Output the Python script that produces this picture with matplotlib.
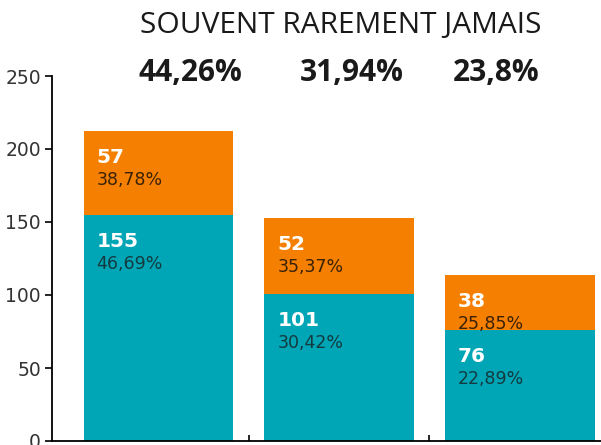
import matplotlib.pyplot as plt
import numpy as np

categories = ['SOUVENT', 'RAREMENT', 'JAMAIS']
header_pct = ['44,26%', '31,94%', '23,8%']
teal_vals = [155, 101, 76]
teal_pct = ['46,69%', '30,42%', '22,89%']
orange_vals = [57, 52, 38]
orange_pct = ['38,78%', '35,37%', '25,85%']

TEAL = '#00a6b5'
ORANGE = '#f47f00'

fig = plt.figure(figsize=(6.01, 4.45), dpi=100)
ax = fig.add_axes([52 / 601, 1 - 441 / 445, 1 - 52 / 601, (441 - 76) / 445])

x = np.arange(len(categories))
w = 0.83
ax.bar(x, teal_vals, width=w, color=TEAL)
ax.bar(x, orange_vals, width=w, bottom=teal_vals, color=ORANGE)

def label(xi, top, num, pct, pct_color):
  ax.annotate(str(num), (xi - w / 2, top), xytext=(13, -17), textcoords='offset pixels',
              ha='left', va='top', color='white', fontsize=14.5, fontweight='heavy',
              family='DejaVu Sans')
  ax.annotate(pct, (xi - w / 2, top), xytext=(13, -40), textcoords='offset pixels',
              ha='left', va='top', color=pct_color, fontsize=12.5, family='DejaVu Sans')

for i in range(len(categories)):
  label(x[i], teal_vals[i], teal_vals[i], teal_pct[i], '#143a40')
  label(x[i], teal_vals[i] + orange_vals[i], orange_vals[i], orange_pct[i], '#3a2208')

ax.set_ylim(0, 250)
ax.set_xlim(-0.59, 2.45)
ax.set_yticks([0, 50, 100, 150, 200, 250])
ax.set_xticks([0.5, 1.5])
ax.set_xticklabels([])
ax.tick_params(axis='x', direction='in', length=4, width=1.2)
ax.tick_params(axis='y', direction='out', length=5, width=1.2, labelsize=13.5,
               labelcolor='#333333', pad=3)
for s in ['top', 'right']:
  ax.spines[s].set_visible(False)
for s in ['left', 'bottom']:
  ax.spines[s].set_linewidth(1.3)

fig.text(341 / 601, 1 - 26 / 445, ' '.join(categories), ha='center', va='center',
         fontsize=21.5, family='Open Sans', color='#1a1a1a')
header_x = [190, 352, 496]
for hx, p in zip(header_x, header_pct):
  fig.text(hx / 601, 1 - 73 / 445, p, ha='center', va='center', fontsize=21.5,
           fontweight='bold', family='Open Sans', color='#1a1a1a')

fig.savefig('out.png', dpi=100)
